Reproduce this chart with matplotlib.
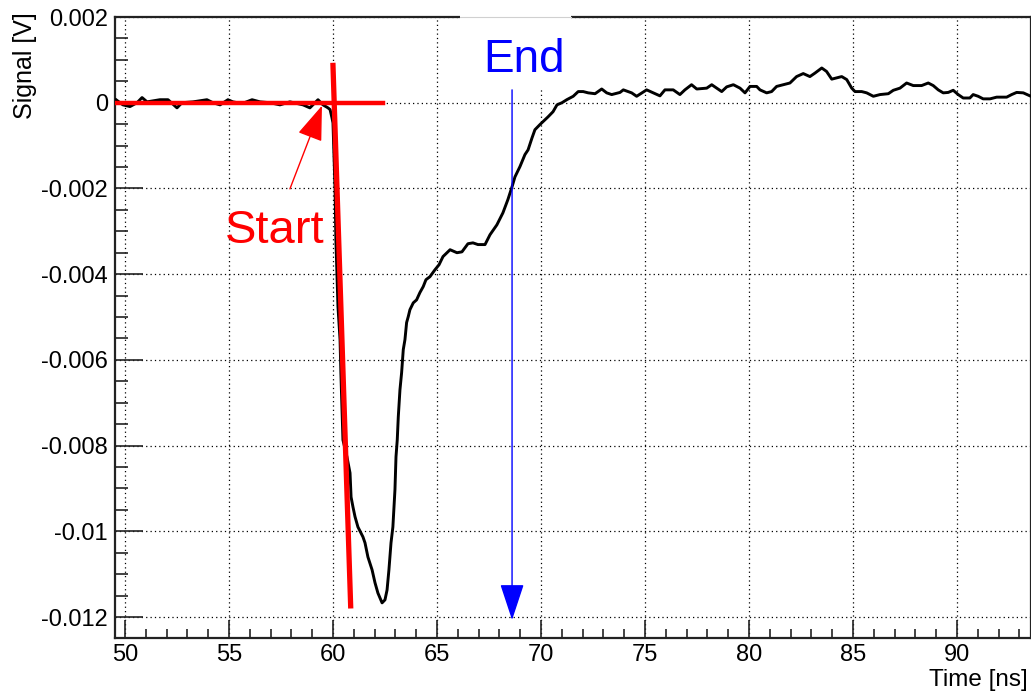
import numpy as np
import matplotlib
matplotlib.use("Agg")
import matplotlib.pyplot as plt
from matplotlib.patches import Rectangle
from matplotlib.ticker import MultipleLocator

# waveform (time in ns, signal in mV)
time_ns = [49.57, 49.90, 50.24, 50.58, 50.82, 51.06, 51.68, 52.07, 52.50, 52.74,
           53.27, 53.94, 54.23, 54.57, 54.95, 55.19, 55.63, 56.11, 56.49, 56.97,
           57.45, 57.93, 58.56, 58.89, 59.28, 59.52, 59.76,
           59.86, 59.95, 60.00, 60.05, 60.10, 60.14, 60.19, 60.24, 60.34, 60.38,
           60.43, 60.48, 60.67, 60.82, 60.87, 60.96, 61.06, 61.20, 61.44, 61.54,
           61.68, 61.88, 62.02, 62.16, 62.36, 62.50, 62.60, 62.69, 62.79, 62.88,
           62.98,
           63.03, 63.09, 63.14, 63.22, 63.30, 63.38, 63.46, 63.54, 63.62, 63.70,
           63.86, 64.02, 64.18, 64.34, 64.47, 64.66, 64.90, 65.10, 65.29, 65.63,
           65.96, 66.20, 66.49, 66.73, 66.97, 67.31, 67.55, 67.88, 68.17, 68.41,
           68.61, 68.75, 68.99, 69.23, 69.38, 69.57, 69.71, 69.95, 70.10, 70.34,
           70.58, 70.77, 71.01,
           71.24, 71.55, 71.79, 72.03, 72.27, 72.60, 72.92, 73.16, 73.40, 73.80,
           73.96, 74.36, 74.60, 75.08, 75.40, 75.72, 75.96, 76.36, 76.68, 76.92,
           77.24, 77.49, 77.97, 78.21, 78.45, 78.69, 78.93, 79.25, 79.57, 79.81,
           80.05, 80.37, 80.53, 80.85, 81.09, 81.33, 81.65, 81.97, 82.29, 82.61,
           82.93, 83.17, 83.50, 83.73, 83.98, 84.22, 84.46, 84.70, 84.94, 85.10,
           85.42, 85.66, 85.98, 86.30, 86.70, 86.94, 87.26, 87.58, 87.90, 88.30,
           88.62, 88.86, 89.10, 89.34, 89.58, 89.82, 90.06, 90.30, 90.62, 90.78,
           91.02, 91.26, 91.59, 91.91, 92.39, 92.63, 92.87, 93.19, 93.51]
signal_mV = [0.07, -0.05, -0.09, 0.00, 0.12, 0.02, 0.07, 0.07, -0.12, 0.00,
             0.02, 0.07, 0.00, -0.05, 0.07, 0.02, -0.02, 0.07, 0.02, 0.00,
             -0.05, 0.02, -0.05, -0.12, 0.07, -0.05, -0.12,
             -0.16, -0.35, -0.47, -1.26, -2.03, -3.20, -3.97, -4.76, -5.53, -6.30,
             -7.09, -7.87, -8.26, -8.64, -9.20, -9.43, -9.66, -9.90, -10.13, -10.27,
             -10.60, -10.90, -11.20, -11.44, -11.67, -11.60, -11.37, -10.90, -10.27, -9.90,
             -9.03,
             -8.26, -7.87, -7.33, -6.70, -6.30, -5.76, -5.53, -5.13, -4.99, -4.83,
             -4.67, -4.60, -4.43, -4.29, -4.13, -4.06, -3.90, -3.78, -3.59, -3.43,
             -3.50, -3.48, -3.29, -3.27, -3.31, -3.31, -3.08, -2.85, -2.57, -2.26,
             -1.96, -1.73, -1.49, -1.21, -1.10, -0.82, -0.63, -0.51, -0.44, -0.33,
             -0.21, -0.05, 0.00,
             0.07, 0.15, 0.26, 0.26, 0.23, 0.21, 0.32, 0.23, 0.19, 0.24,
             0.30, 0.23, 0.15, 0.30, 0.23, 0.16, 0.30, 0.30, 0.19, 0.30,
             0.42, 0.32, 0.34, 0.42, 0.34, 0.26, 0.37, 0.42, 0.34, 0.23,
             0.38, 0.38, 0.30, 0.23, 0.26, 0.38, 0.42, 0.46, 0.61, 0.68,
             0.61, 0.69, 0.81, 0.73, 0.55, 0.58, 0.61, 0.54, 0.34, 0.26,
             0.26, 0.23, 0.15, 0.19, 0.21, 0.29, 0.34, 0.46, 0.40, 0.40,
             0.46, 0.40, 0.30, 0.23, 0.24, 0.29, 0.19, 0.11, 0.11, 0.19,
             0.15, 0.09, 0.09, 0.13, 0.13, 0.19, 0.24, 0.23, 0.16]

x_ticks = [50, 55, 60, 65, 70, 75, 80, 85, 90]
x_tick_labels = ["50", "55", "60", "65", "70", "75", "80", "85", "90"]
y_ticks = [0.002, 0.0, -0.002, -0.004, -0.006, -0.008, -0.01, -0.012]
y_tick_labels = ["0.002", "0", "-0.002", "-0.004", "-0.006", "-0.008", "-0.01", "-0.012"]

# hand drawn marks on top of the plot
baseline_t = [49.62, 62.40]
baseline_mV = [0.0, 0.0]
edge_t = [60.00, 60.85]
edge_mV = [0.87, -11.74]
start_tip = (59.47, -0.07)
start_tail = (57.93, -2.01)
end_tip = (68.61, -12.07)
end_tail = (68.61, 0.30)

plt.rcParams["font.family"] = ["Liberation Sans", "DejaVu Sans"]
plt.rcParams["axes.unicode_minus"] = False

t = np.array(time_ns)
v = np.array(signal_mV) * 1e-3

fig = plt.figure(figsize=(10.31, 6.96), dpi=100)
ax = fig.add_axes([115 / 1031, 58 / 696, 916 / 1031, 621 / 696])

ax.plot(t, v, color="black", lw=2.1, zorder=4)
ax.set_xlim(49.52, 93.56)
ax.set_ylim(-0.01249, 0.002)

ax.set_xticks(x_ticks)
ax.set_xticklabels(x_tick_labels)
ax.set_yticks(y_ticks)
ax.set_yticklabels(y_tick_labels)
ax.xaxis.set_minor_locator(MultipleLocator(1))
ax.yaxis.set_minor_locator(MultipleLocator(0.0005))
ax.tick_params(which="both", direction="in", top=False, right=False,
               width=1.2, color="#222222", labelsize=17)
ax.tick_params(axis="x", which="major", length=13, pad=4)
ax.tick_params(axis="x", which="minor", length=6.5)
ax.tick_params(axis="y", which="major", length=20, pad=5)
ax.tick_params(axis="y", which="minor", length=9.5)
ax.grid(True, which="major", color="black", linestyle=(0, (1, 2.5)), lw=0.9)
for s in ax.spines.values():
    s.set_linewidth(1.6)
    s.set_color("#222222")

# red start marks
ax.plot(baseline_t, np.array(baseline_mV) * 1e-3, color="red", lw=3.2, zorder=5)
ax.plot(edge_t, np.array(edge_mV) * 1e-3, color="red", lw=3.8, zorder=5)
ax.annotate("", xy=(start_tip[0], start_tip[1] * 1e-3),
            xytext=(start_tail[0], start_tail[1] * 1e-3),
            arrowprops=dict(arrowstyle="-|>,head_length=1.1,head_width=0.4",
                            color="red", lw=1, mutation_scale=20,
                            shrinkA=0, shrinkB=0), zorder=6)
ax.text(57.21, -3.27e-3, "Start", color="red", fontsize=34,
        ha="center", va="baseline", zorder=6)

# white box behind "End" that hides grid and top frame
box = Rectangle((66.11, 0.33e-3), 71.44 - 66.11, 0.00172, facecolor="white",
                edgecolor="none", zorder=3, clip_on=False)
ax.add_patch(box)
ax.plot([66.11, 71.44], [0.002, 0.002], color="#d0d0d0", lw=0.8, zorder=3.1,
        clip_on=False)
ax.annotate("", xy=(end_tip[0], end_tip[1] * 1e-3),
            xytext=(end_tail[0], end_tail[1] * 1e-3),
            arrowprops=dict(arrowstyle="-|>,head_length=1.15,head_width=0.38",
                            color="blue", lw=1, mutation_scale=20,
                            shrinkA=0, shrinkB=0), zorder=6)
ax.text(69.18, 0.72e-3, "End", color="blue", fontsize=33,
        ha="center", va="baseline", zorder=6)

fig.text(1028 / 1031, 1 - 680 / 696, "Time [ns]", fontsize=17.5, ha="right", va="center")
fig.text(25 / 1031, 1 - 12 / 696, "Signal [V]", fontsize=18, ha="center", va="top",
         rotation=90)

fig.savefig("out.png", dpi=100)
